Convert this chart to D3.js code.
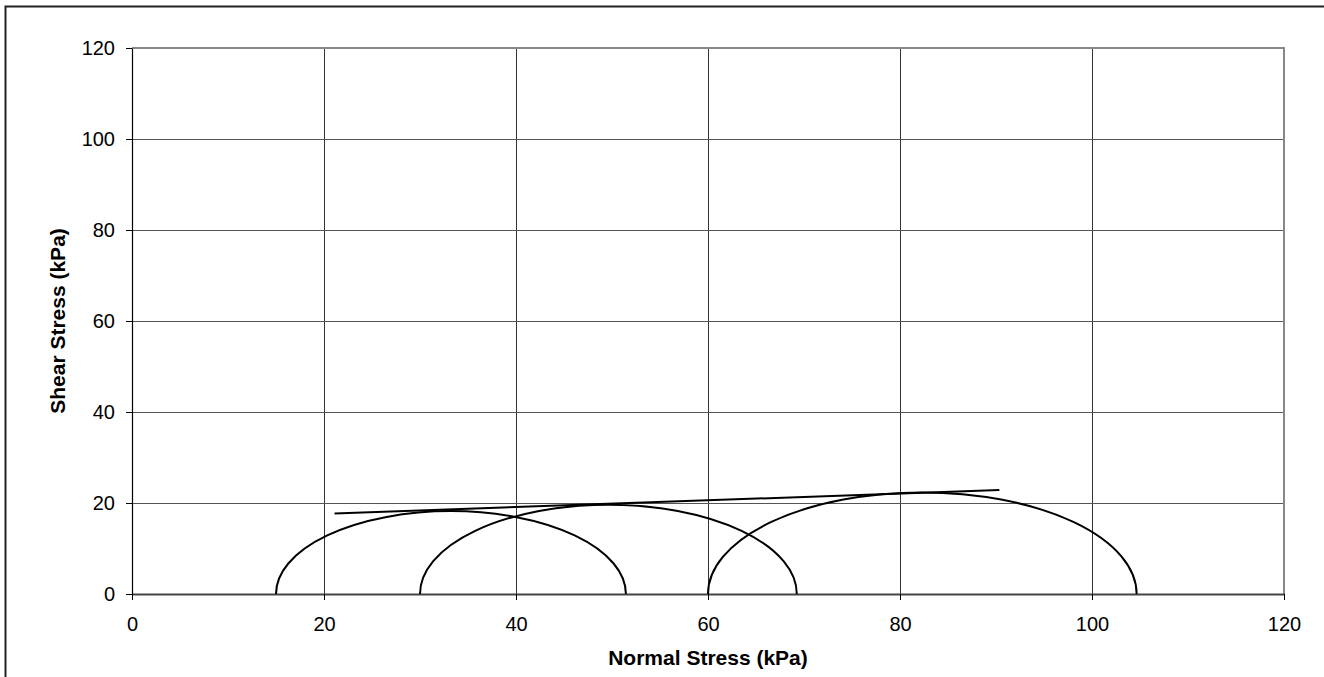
<!DOCTYPE html>
<html><head><meta charset="utf-8">
<script src="https://cdn.jsdelivr.net/npm/d3@7"></script>
<style>body{margin:0;background:#fff}svg{display:block;font-family:"Liberation Sans",Arial,sans-serif}</style>
</head><body><svg id="c" width="1324" height="677"></svg>
<script>
// Data
const xTicks = [0, 20, 40, 60, 80, 100, 120];
const yTicks = [0, 20, 40, 60, 80, 100, 120];
const sigma3 = [15, 30, 60];          // minor principal stress (kPa)
const sigma1 = [51.45, 69.25, 104.65]; // major principal stress (kPa)
const envelopeX = [21.1, 90.35];
const envelopeY = [17.7, 22.85];

const svg = d3.select("#c");
const L = 132, R = 1284, T = 48, B = 594;
const x = d3.scaleLinear().domain([0, 120]).range([L, R]);
const y = d3.scaleLinear().domain([0, 120]).range([B, T]);

// outer border
svg.append("rect").attr("x", 5.5).attr("y", 6.5).attr("width", 1340).attr("height", 700)
  .attr("fill", "none").attr("stroke", "#222").attr("stroke-width", 2);

// grid
const g = svg.append("g");
g.selectAll(".vg").data(xTicks.filter(d => d > 0 && d < 120)).join("line")
  .attr("x1", d => Math.round(x(d)) + 0.5).attr("x2", d => Math.round(x(d)) + 0.5)
  .attr("y1", T).attr("y2", B).attr("stroke", "#333").attr("stroke-width", 1);
g.selectAll(".hg").data(yTicks.filter(d => d > 0 && d < 120)).join("line")
  .attr("y1", d => Math.round(y(d)) + 0.5).attr("y2", d => Math.round(y(d)) + 0.5)
  .attr("x1", L).attr("x2", R).attr("stroke", "#555").attr("stroke-width", 1);

// plot border top/right (gray)
svg.append("path").attr("d", `M${L},${T}H${R}V${B}`).attr("fill", "none")
  .attr("stroke", "#888").attr("stroke-width", 2);

// axes
const xAxis = d3.axisBottom(x).tickValues(xTicks).tickSize(6).tickSizeOuter(0).tickPadding(17);
const yAxis = d3.axisLeft(y).tickValues(yTicks).tickSize(6).tickSizeOuter(0).tickPadding(11);
const gx = svg.append("g").attr("transform", `translate(0,${B})`).call(xAxis);
const gy = svg.append("g").attr("transform", `translate(${L},0)`).call(yAxis);
[gx, gy].forEach(a => {
  a.selectAll("text").attr("font-size", 20).attr("fill", "#000").attr("font-family", "Liberation Sans, Arial, sans-serif");
  a.selectAll("line").attr("stroke", "#000");
});
gx.select(".domain").attr("stroke", "#444").attr("stroke-width", 2);
gy.select(".domain").attr("stroke", "#000").attr("stroke-width", 1.2);

// Mohr circles (upper halves) drawn as SVG arcs through the scales
svg.selectAll(".mohr").data(sigma3.map((s3, i) => ({ s3, s1: sigma1[i] }))).join("path")
  .attr("d", d => {
    const r = (d.s1 - d.s3) / 2;
    const rx = x(r) - x(0), ry = y(0) - y(r);
    return `M${x(d.s3)},${y(0)} A${rx},${ry} 0 0 1 ${x(d.s1)},${y(0)}`;
  })
  .attr("fill", "none").attr("stroke", "#000").attr("stroke-width", 2);

// failure envelope
svg.append("path")
  .attr("d", d3.line().x(d => x(d[0])).y(d => y(d[1]))(envelopeX.map((v, i) => [v, envelopeY[i]])))
  .attr("fill", "none").attr("stroke", "#000").attr("stroke-width", 2);

// axis titles
svg.append("text").attr("x", x(60)).attr("y", 665).attr("text-anchor", "middle")
  .attr("font-size", 21).attr("font-weight", "bold").text("Normal Stress (kPa)");
svg.append("text").attr("transform", `translate(65,${y(60)}) rotate(-90)`).attr("text-anchor", "middle")
  .attr("font-size", 21).attr("font-weight", "bold").text("Shear Stress (kPa)");
</script></body></html>
